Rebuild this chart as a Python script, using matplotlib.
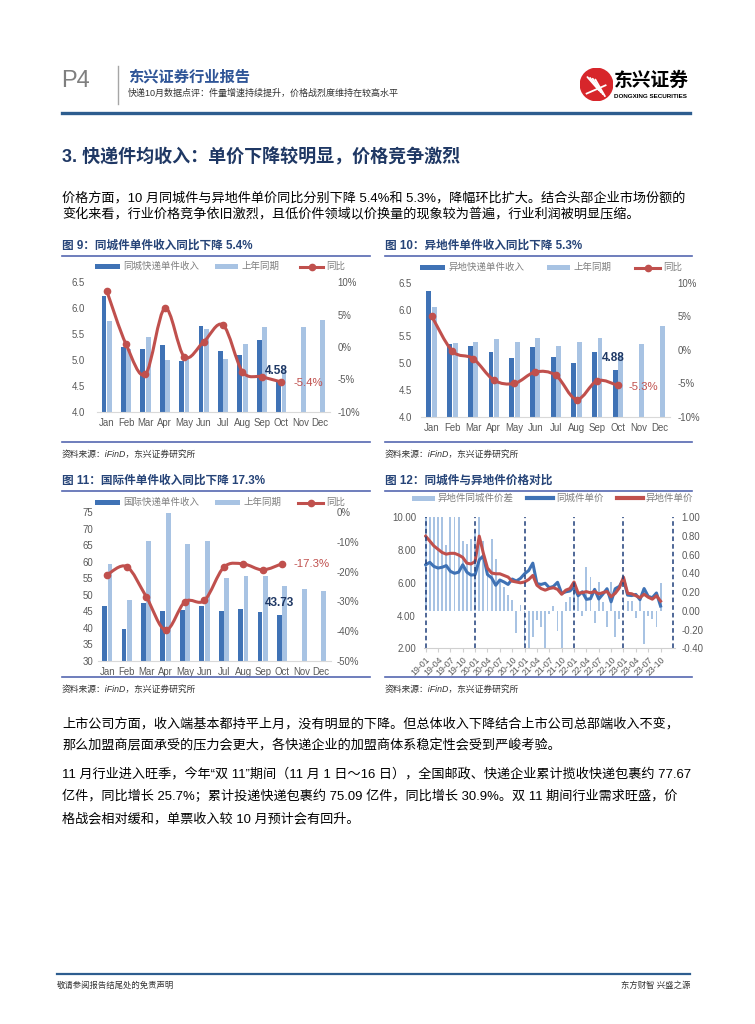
import numpy as np
import matplotlib
matplotlib.use('Agg')
import matplotlib.pyplot as plt
from matplotlib.path import Path
from matplotlib.patches import PathPatch, Rectangle, Circle
from matplotlib.lines import Line2D

plt.rcParams['font.family'] = ['Liberation Sans', 'Noto Sans CJK SC']
plt.rcParams['axes.unicode_minus'] = False

# ---------------- data ----------------
months = ['Jan', 'Feb', 'Mar', 'Apr', 'May', 'Jun', 'Jul', 'Aug', 'Sep', 'Oct', 'Nov', 'Dec']

# Fig 9 同城
tc_cur = [6.23, 5.25, 5.22, 5.29, 4.97, 5.65, 5.17, 5.09, 5.38, 4.58]
tc_prev = [5.75, 5.21, 5.45, 4.99, 5.03, 5.60, 5.01, 5.31, 5.64, 4.84, 5.64, 5.78]
tc_yoy = [8.7, 0.4, -4.2, 6.0, -1.5, 0.8, 3.4, -3.8, -4.6, -5.4]

# Fig 10 异地
yd_cur = [6.34, 5.36, 5.33, 5.21, 5.10, 5.30, 5.12, 5.00, 5.21, 4.88]
yd_prev = [6.05, 5.37, 5.40, 5.46, 5.39, 5.47, 5.32, 5.40, 5.47, 5.15, 5.36, 5.69]
yd_yoy = [5.0, -0.2, -1.3, -4.5, -5.0, -3.3, -3.8, -7.4, -4.6, -5.3]

# Fig 11 国际
gj_cur = [46.6, 39.5, 47.6, 45.0, 45.4, 46.6, 45.0, 45.8, 44.7, 43.73]
gj_prev = [59.3, 48.4, 66.3, 74.7, 65.4, 66.3, 55.0, 55.7, 55.7, 52.8, 51.8, 51.0]
gj_yoy = [-21.0, -18.3, -28.4, -39.7, -30.1, -29.7, -18.5, -17.4, -19.4, -17.3]

# Fig 12 monthly 2019-01 .. 2023-10
tc_price = [7.10, 7.25, 7.00, 6.90, 6.95, 7.05, 6.70, 6.58, 6.65, 7.10, 6.65, 6.47,
            6.50, 7.40, 7.65, 6.50, 6.30, 5.85, 6.17, 6.05, 5.90, 6.23, 6.11, 6.27,
            6.55, 6.75, 7.20, 5.95, 5.90, 5.97, 5.70, 5.78, 6.03, 5.35, 5.45, 5.50,
            5.75, 5.21, 5.45, 4.99, 5.03, 5.60, 5.01, 5.31, 5.64, 4.84, 5.64, 5.78,
            6.23, 5.25, 5.22, 5.29, 4.97, 5.65, 5.17, 5.09, 5.38, 4.58]
yd_price = [8.85, 8.55, 8.25, 8.05, 7.85, 7.75, 7.80, 7.80, 7.70, 7.55, 7.20, 7.15,
            7.30, 8.85, 7.80, 6.90, 6.60, 6.55, 6.55, 6.45, 6.35, 6.10, 6.05, 6.00,
            6.05, 6.20, 6.45, 5.85, 5.65, 5.55, 5.65, 5.70, 5.60, 5.30, 5.55, 5.65,
            6.05, 5.37, 5.40, 5.46, 5.39, 5.47, 5.32, 5.40, 5.47, 5.15, 5.36, 5.69,
            6.34, 5.36, 5.33, 5.21, 5.10, 5.30, 5.12, 5.00, 5.21, 4.88]
price_gap = [1.75, 1.30, 1.25, 1.15, 1.00, 0.70, 1.10, 1.20, 1.05, 0.75, 0.72, 0.77,
             0.86, 1.40, 0.75, 0.45, 0.77, 0.55, 0.31, 0.26, 0.17, 0.12, -0.24, 0.06,
             -0.36, -0.50, -0.28, -0.10, -0.17, -0.45, -0.03, 0.05, -0.22, -0.45, 0.10, 0.15,
             0.30, 0.16, -0.05, 0.47, 0.36, -0.13, 0.31, 0.09, -0.17, 0.31, -0.28, -0.09,
             0.11, 0.11, 0.11, -0.08, 0.13, -0.35, -0.05, -0.09, -0.17, 0.30]
f12_ticklabels = ['19-01', '19-04', '19-07', '19-10', '20-01', '20-04', '20-07', '20-10',
                  '21-01', '21-04', '21-07', '21-10', '22-01', '22-04', '22-07', '22-10',
                  '23-01', '23-04', '23-07', '23-10']
year_start_idx = [0, 12, 24, 36, 48, 60]

# ---------------- style ----------------
W, H = 755, 1024
DARK = '#3f72b5'
LIGHT = '#a8c3e3'
RED = '#c0504d'
NAVY = '#1f3864'
TITLE_C = '#264478'
RULE_C = '#5567b0'
TICK_C = '#595959'
TICK_FS = 6.9
BODY_FS = 9.45

fig = plt.figure(figsize=(W / 100, H / 100), dpi=100)


def rect(x0, y0, x1, y1):
    return [x0 / W, 1 - y1 / H, (x1 - x0) / W, (y1 - y0) / H]


def txt(x, y, s, size, color='black', weight='normal', ha='left', va='center', **kw):
    fig.text(x / W, 1 - y / H, s, fontsize=size, color=color, fontweight=weight,
             ha=ha, va=va, **kw)


def hline(x0, x1, y, color, lw):
    fig.add_artist(Line2D([x0 / W, x1 / W], [1 - y / H, 1 - y / H], color=color, lw=lw))


def smooth_line(ax, xs, ys, color, lw):
    pts = np.column_stack([xs, ys]).astype(float)
    n = len(pts)
    verts = [pts[0]]
    codes = [Path.MOVETO]
    for i in range(n - 1):
        p0 = pts[max(i - 1, 0)]
        p1 = pts[i]
        p2 = pts[i + 1]
        p3 = pts[min(i + 2, n - 1)]
        verts += [p1 + (p2 - p0) / 6, p2 - (p3 - p1) / 6, p2]
        codes += [Path.CURVE4] * 3
    ax.add_patch(PathPatch(Path(verts, codes), fill=False, edgecolor=color, lw=lw,
                           capstyle='round', joinstyle='round', zorder=3))


def legend_item(kind, x0, x1, y, color, label, lw=2.2):
    if kind == 'bar':
        fig.add_artist(Rectangle((x0 / W, 1 - (y + 2.5) / H), (x1 - x0) / W, 5 / H,
                                 facecolor=color, edgecolor='none'))
    else:
        fig.add_artist(Line2D([x0 / W, x1 / W], [1 - y / H, 1 - y / H], color=color, lw=lw))
        if kind == 'linem':
            fig.add_artist(Line2D([(x0 + x1) / 2 / W], [1 - y / H], color=color,
                                  marker='o', ms=4.5, lw=0))
    txt(x1 + 3, y, label, 6.8, color='#7f7f7f')


def bar_panel(box, cur, prev, yoy, ylim, yticks, ylabels, rlim, rticks, rlabels,
              lpad, rpad, bpad, w=0.25, off=0.14):
    ax = fig.add_axes(rect(*box))
    x = np.arange(len(months))
    ax.bar(x[:len(cur)] - off, cur, width=w, color=DARK, zorder=2)
    ax.bar(x[:len(prev)] + off, prev, width=w, color=LIGHT, zorder=2)
    ax.set_xlim(-0.5, 11.5)
    ax.set_ylim(*ylim)
    ax.set_yticks(yticks)
    ax.set_yticklabels(ylabels)
    ax.set_xticks(x)
    ax.set_xticklabels(months)
    for s in ['top', 'right', 'left']:
        ax.spines[s].set_visible(False)
    ax.spines['bottom'].set_color('#d9d9d9')
    ax.tick_params(length=0, labelsize=TICK_FS, labelcolor=TICK_C)
    ax.tick_params(axis='y', pad=lpad)
    ax.tick_params(axis='x', pad=bpad)
    ax2 = ax.twinx()
    ax2.set_ylim(*rlim)
    ax2.set_yticks(rticks)
    ax2.set_yticklabels(rlabels)
    for s in ax2.spines.values():
        s.set_visible(False)
    ax2.tick_params(length=0, labelsize=TICK_FS, labelcolor=TICK_C, pad=rpad)
    xs = x[:len(yoy)]
    smooth_line(ax2, xs, yoy, RED, 2.2)
    ax2.plot(xs, yoy, 'o', color=RED, ms=4.5, zorder=4)
    return ax, ax2


# ---------------- header ----------------
txt(61, 81, 'P4', 17, color='#7f7f7f', family=['Liberation Sans', 'DejaVu Sans'])
fig.add_artist(Line2D([118 / W, 118 / W], [1 - 66 / H, 1 - 104 / H], color='#a6a6a6', lw=1))
txt(128, 77, '东兴证券行业报告', 11, color='#2f5597', weight='bold')
txt(128, 93.5, '快递10月数据点评：件量增速持续提升，价格战烈度维持在较高水平', 6.5, color='#333333')
hline(62, 690, 113, '#2d5d8f', 2.4)

# logo
lax = fig.add_axes(rect(580, 68, 613, 101))
lax.set_xlim(-1, 1)
lax.set_ylim(-1, 1)
lax.set_aspect('equal')
lax.axis('off')
lax.add_patch(Circle((0, 0), 0.98, color='#d7262b'))
for k in range(4):
    lax.plot([-0.55 + 0.16 * k, 0.15 + 0.12 * k], [0.45 - 0.05 * k, -0.35 - 0.12 * k],
             color='white', lw=1.3, solid_capstyle='round')
lax.plot([-0.6, 0.55], [-0.55, -0.05], color='white', lw=1.3)
txt(614, 81, '东兴证券', 13.5, weight='bold')
txt(614, 97, 'DONGXING SECURITIES', 4.5, weight='bold')

# ---------------- section 3 ----------------
txt(62, 157, '3. 快递件均收入：单价下降较明显，价格竞争激烈', 13, color=NAVY, weight='bold')
txt(62, 198, '价格方面，10 月同城件与异地件单价同比分别下降 5.4%和 5.3%，降幅环比扩大。结合头部企业市场份额的', BODY_FS)
txt(62, 215, '变化来看，行业价格竞争依旧激烈，且低价件领域以价换量的现象较为普遍，行业利润被明显压缩。', BODY_FS)

# chart titles & rules
txt(62, 246, '图 9：同城件单件收入同比下降 5.4%', 8.4, color=TITLE_C, weight='bold')
txt(385, 246, '图 10：异地件单件收入同比下降 5.3%', 8.4, color=TITLE_C, weight='bold')
txt(62, 481, '图 11：国际件单件收入同比下降 17.3%', 8.4, color=TITLE_C, weight='bold')
txt(385, 481, '图 12：同城件与异地件价格对比', 8.4, color=TITLE_C, weight='bold')
for yy in (256, 442, 491, 677):
    hline(62, 370, yy, RULE_C, 1.2)
    hline(385, 692, yy, RULE_C, 1.2)
for xx in (62, 385):
    txt(xx, 454, '资料来源：iFinD，东兴证券研究所', 6.3, color='#333333', style='italic')
    txt(xx, 689, '资料来源：iFinD，东兴证券研究所', 6.3, color='#333333', style='italic')

# ---------------- Fig 9 ----------------
ax9, ax9r = bar_panel((97, 282.3, 329.7, 411.7), tc_cur, tc_prev, tc_yoy,
                      (4.0, 6.5), [4.0, 4.5, 5.0, 5.5, 6.0, 6.5],
                      ['4.0', '4.5', '5.0', '5.5', '6.0', '6.5'],
                      (-10, 10), [-10, -5, 0, 5, 10], ['-10%', '-5%', '0%', '5%', '10%'],
                      lpad=8.5, rpad=5.5, bpad=4.5)
ax9.text(8.77, 4.79, '4.58', fontsize=8.5, fontweight='bold', color=NAVY, ha='center', va='center', zorder=6)
ax9.text(10.38, 4.55, '-5.4%', fontsize=8.2, color=RED, ha='center', va='center', zorder=6)
legend_item('bar', 95, 120, 266.7, DARK, '同城快递单件收入')
legend_item('bar', 215, 238, 266.7, LIGHT, '上年同期')
legend_item('linem', 300, 323, 266.7, RED, '同比')

# ---------------- Fig 10 ----------------
ax10, ax10r = bar_panel((421.4, 282.7, 669.6, 417), yd_cur, yd_prev, yd_yoy,
                        (4.0, 6.5), [4.0, 4.5, 5.0, 5.5, 6.0, 6.5],
                        ['4.0', '4.5', '5.0', '5.5', '6.0', '6.5'],
                        (-10, 10), [-10, -5, 0, 5, 10], ['-10%', '-5%', '0%', '5%', '10%'],
                        lpad=7, rpad=5.5, bpad=4, w=0.24, off=0.135)
ax10.text(8.76, 5.10, '4.88', fontsize=8.5, fontweight='bold', color=NAVY, ha='center', va='center', zorder=6)
ax10.text(10.22, 4.56, '-5.3%', fontsize=8.2, color=RED, ha='center', va='center', zorder=6)
legend_item('bar', 420, 445, 267.7, DARK, '异地快递单件收入')
legend_item('bar', 547, 570, 267.7, LIGHT, '上年同期')
legend_item('linem', 635, 660, 267.7, RED, '同比')

# ---------------- Fig 11 ----------------
ax11, ax11r = bar_panel((97.6, 512.3, 330.7, 660.7), gj_cur, gj_prev, gj_yoy,
                        (30, 75), [30, 35, 40, 45, 50, 55, 60, 65, 70, 75],
                        ['30', '35', '40', '45', '50', '55', '60', '65', '70', '75'],
                        (-50, 0), [-50, -40, -30, -20, -10, 0],
                        ['-50%', '-40%', '-30%', '-20%', '-10%', '0%'],
                        lpad=3, rpad=4.5, bpad=4.5)
ax11.text(8.84, 47.5, '43.73', fontsize=8.5, fontweight='bold', color=NAVY, ha='center', va='center', zorder=6)
ax11.text(10.52, 59.2, '-17.3%', fontsize=8.2, color=RED, ha='center', va='center', zorder=6)
legend_item('bar', 95, 120, 502.7, DARK, '国际快递单件收入')
legend_item('bar', 215, 240, 502.7, LIGHT, '上年同期')
legend_item('linem', 298, 323, 502.7, RED, '同比')

# ---------------- Fig 12 ----------------
ax12 = fig.add_axes(rect(423.6, 517.3, 675, 648.3))
ax12r = ax12.twinx()
ax12.set_zorder(3)
ax12r.set_zorder(2)
ax12.patch.set_visible(False)
n12 = np.arange(len(tc_price))
ax12r.bar(n12, price_gap, width=0.45, color=LIGHT)
ax12r.set_ylim(-0.4, 1.0)
ax12r.set_yticks([-0.4, -0.2, 0.0, 0.2, 0.4, 0.6, 0.8, 1.0])
ax12r.set_yticklabels(['-0.40', '-0.20', '0.00', '0.20', '0.40', '0.60', '0.80', '1.00'])
ax12.plot(n12, tc_price, color=DARK, lw=2.2, solid_joinstyle='round')
ax12.plot(n12, yd_price, color=RED, lw=2.2, solid_joinstyle='round')
for i in year_start_idx:
    ax12.axvline(i, color='#1f3f7a', ls=(0, (3, 2)), lw=1.1)
ax12.set_xlim(-0.5, 60.5)
ax12.set_ylim(2, 10)
ax12.set_yticks([2, 4, 6, 8, 10])
ax12.set_yticklabels(['2.00', '4.00', '6.00', '8.00', '10.00'])
ax12.set_xticks(np.arange(0, len(tc_price), 3))
ax12.set_xticklabels(f12_ticklabels, rotation=45, ha='right', va='top', rotation_mode='anchor')
for a in (ax12, ax12r):
    for s in ['top', 'right', 'left']:
        a.spines[s].set_visible(False)
ax12r.spines['bottom'].set_visible(False)
ax12.spines['bottom'].set_color('#d0d0d0')
ax12.tick_params(axis='x', length=3, color='#d0d0d0', labelsize=6.3, labelcolor=TICK_C, pad=2)
ax12.tick_params(axis='y', length=0, labelsize=TICK_FS, labelcolor=TICK_C, pad=5.5)
ax12r.tick_params(axis='y', length=0, labelsize=TICK_FS, labelcolor=TICK_C, pad=4.8)
legend_item('bar', 412, 435, 498.3, LIGHT, '异地件同城件价差')
legend_item('line', 527, 553, 498.3, DARK, '同城件单价', lw=3)
legend_item('line', 617, 643, 498.3, RED, '异地件单价', lw=3)

# ---------------- lower text ----------------
txt(62, 724, '上市公司方面，收入端基本都持平上月，没有明显的下降。但总体收入下降结合上市公司总部端收入不变，', BODY_FS)
txt(62, 746, '那么加盟商层面承受的压力会更大，各快递企业的加盟商体系稳定性会受到严峻考验。', BODY_FS)
txt(62, 775, '11 月行业进入旺季，今年“双 11”期间（11 月 1 日～16 日），全国邮政、快递企业累计揽收快递包裹约 77.67', BODY_FS)
txt(62, 797, '亿件，同比增长 25.7%；累计投递快递包裹约 75.09 亿件，同比增长 30.9%。双 11 期间行业需求旺盛，价', BODY_FS)
txt(62, 819, '格战会相对缓和，单票收入较 10 月预计会有回升。', BODY_FS)

# footer
hline(57, 690, 974, '#2d5d8f', 1.6)
txt(57, 986, '敬请参阅报告结尾处的免责声明', 6, color='#333333')
txt(690, 986, '东方财智 兴盛之源', 6, color='#333333', ha='right')

fig.savefig('out.png', dpi=100)
